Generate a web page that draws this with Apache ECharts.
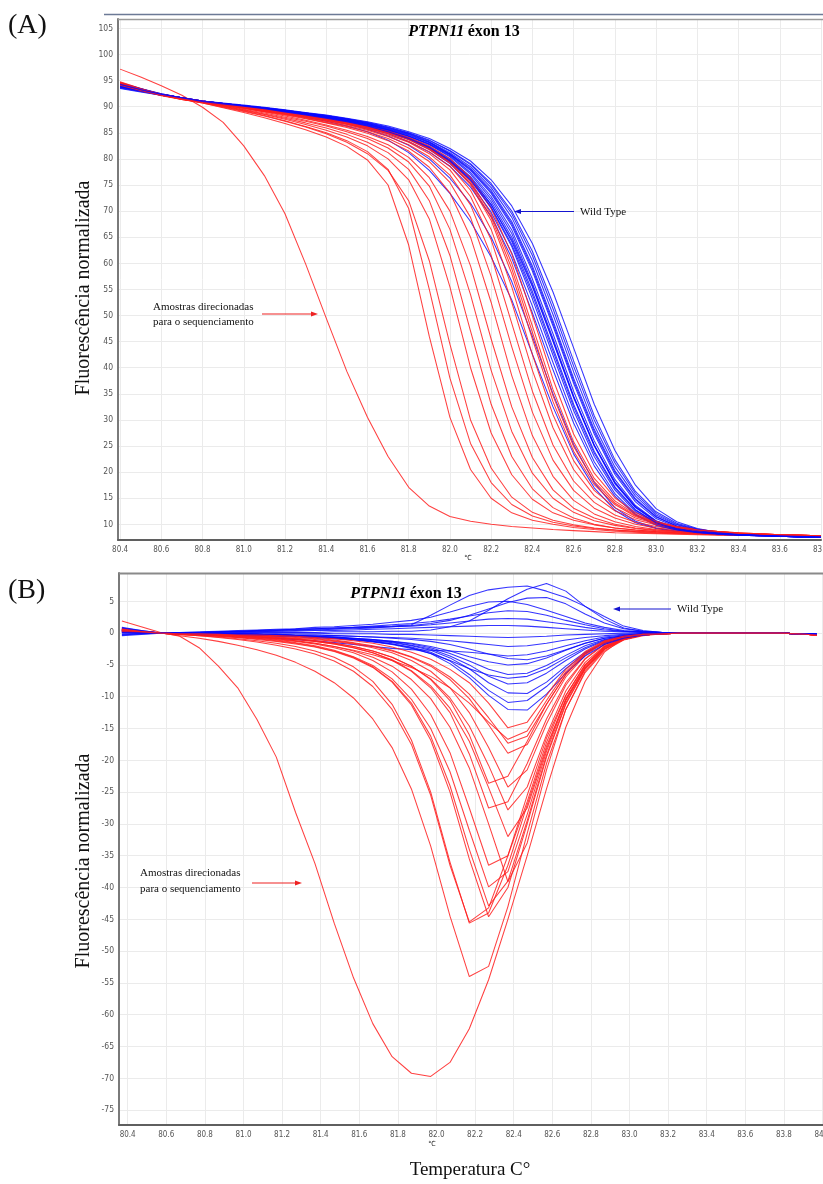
<!DOCTYPE html>
<html><head><meta charset="utf-8">
<script src="https://cdn.jsdelivr.net/npm/echarts@6/dist/echarts.min.js"></script>
<style>html,body{margin:0;padding:0;background:#fff}#c{width:823px;height:1184px}</style>
</head><body><div id="c"></div>
<script>
// ---------- temperatures (°C) ----------
const tempsA = [80.4,80.5,80.6,80.7,80.8,80.9,81.0,81.1,81.2,81.3,81.4,81.5,81.6,81.7,81.8,81.9,82.0,82.1,82.2,82.3,82.4,82.5,82.6,82.7,82.8,82.9,83.0,83.1,83.2,83.3,83.4,83.5,83.6,83.7,83.8];
const tempsB = [80.37,80.47,80.57,80.67,80.77,80.87,80.97,81.07,81.17,81.27,81.37,81.47,81.57,81.67,81.77,81.87,81.97,82.07,82.17,82.27,82.37,82.47,82.57,82.67,82.77,82.87,82.97,83.07,83.17,83.27,83.37,83.47,83.57,83.67,83.77,83.87,83.97];

// ---------- tick labels ----------
const xTicksA = [80.4,80.6,80.8,81.0,81.2,81.4,81.6,81.8,82.0,82.2,82.4,82.6,82.8,83.0,83.2,83.4,83.6,83.8];
const xTicksB = [80.4,80.6,80.8,81.0,81.2,81.4,81.6,81.8,82.0,82.2,82.4,82.6,82.8,83.0,83.2,83.4,83.6,83.8,84.0];
const yTicksA = [10,15,20,25,30,35,40,45,50,55,60,65,70,75,80,85,90,95,100,105];
const yTicksB = [-75,-70,-65,-60,-55,-50,-45,-40,-35,-30,-25,-20,-15,-10,-5,0,5];

// ---------- (A) normalized melting curves: wild type ----------
const wildTypeA = [
 [93.6,92.9,92.2,91.6,91.0,90.4,89.9,89.3,88.7,88.0,87.2,86.3,85.2,83.6,81.2,77.8,73.4,68.0,61.2,53.0,42.6,32.5,23.5,17.0,12.7,10.3,9.2,8.6,8.3,8.0,7.9,7.8,7.7,7.6,7.5],
 [93.8,93.0,92.3,91.6,91.0,90.5,90.0,89.4,88.8,88.2,87.5,86.7,85.7,84.4,82.6,80.0,76.3,71.5,65.0,56.5,46.0,35.0,25.3,18.0,13.2,10.6,9.3,8.7,8.3,8.1,7.9,7.8,7.7,7.6,7.5],
 [94.1,93.2,92.4,91.7,91.1,90.6,90.1,89.6,89.0,88.4,87.7,87.0,86.1,85.0,83.7,81.8,79.1,75.3,69.8,62.0,51.8,41.0,30.5,22.0,15.9,12.0,9.9,8.9,8.4,8.1,7.9,7.8,7.7,7.6,7.5],
 [93.9,93.1,92.3,91.6,91.0,90.5,90.1,89.6,89.1,88.5,87.9,87.2,86.3,85.3,84.0,82.3,79.8,76.4,71.3,64.2,54.6,43.8,33.0,24.0,17.2,12.8,10.3,9.1,8.5,8.2,8.0,7.8,7.7,7.6,7.5],
 [94.3,93.3,92.4,91.7,91.0,90.6,90.2,89.7,89.2,88.7,88.1,87.3,86.5,85.5,84.3,82.7,80.4,77.1,72.3,65.7,56.2,45.6,34.6,25.2,18.0,13.3,10.6,9.2,8.6,8.2,8.0,7.9,7.8,7.6,7.5],
 [94.0,93.1,92.3,91.6,91.0,90.5,90.1,89.6,89.1,88.6,88.0,87.4,86.6,85.6,84.4,82.8,80.6,77.4,72.8,66.4,57.0,46.5,35.5,26.0,18.6,13.6,10.7,9.3,8.6,8.2,8.0,7.9,7.8,7.7,7.6],
 [93.7,93.0,92.3,91.6,91.0,90.6,90.2,89.7,89.2,88.7,88.2,87.6,86.8,85.8,84.7,83.2,81.0,78.2,74.0,68.0,59.5,49.0,38.0,28.2,20.3,14.9,11.5,9.7,8.8,8.3,8.0,7.9,7.8,7.6,7.5],
 [94.4,93.4,92.5,91.7,91.1,90.6,90.2,89.8,89.3,88.8,88.3,87.7,86.9,86.0,84.9,83.5,81.5,78.9,75.0,69.5,61.5,51.3,40.3,30.0,21.8,15.9,12.1,10.0,9.0,8.4,8.1,7.9,7.8,7.7,7.6],
 [94.2,93.3,92.4,91.7,91.1,90.7,90.3,89.9,89.4,88.9,88.4,87.8,87.1,86.3,85.2,83.9,82.0,79.6,76.0,71.0,63.8,54.5,43.8,33.0,24.2,17.5,13.0,10.5,9.2,8.5,8.1,7.9,7.7,7.6,7.5],
 [93.5,92.8,92.2,91.6,91.0,90.5,90.0,89.5,89.0,88.4,87.8,87.1,86.2,85.2,83.9,82.1,79.7,76.2,71.2,64.5,55.5,45.0,34.3,25.0,17.8,13.2,10.5,9.2,8.6,8.2,8.0,7.9,7.8,7.7,7.6],
 [94.5,93.5,92.5,91.7,91.0,90.5,90.1,89.6,89.1,88.6,88.0,87.4,86.6,85.6,84.4,82.9,80.8,77.8,73.4,67.2,58.5,48.0,37.0,27.3,19.6,14.3,11.1,9.5,8.7,8.3,8.0,7.9,7.8,7.7,7.6],
 [93.9,93.1,92.3,91.6,91.0,90.5,90.0,89.5,88.9,88.3,87.6,86.8,85.9,84.8,83.3,81.3,78.6,74.6,69.0,61.0,50.5,39.6,29.4,21.2,15.4,11.8,9.8,8.9,8.4,8.1,7.9,7.8,7.7,7.6,7.5],
 [94.0,93.2,92.4,91.7,91.1,90.6,90.2,89.8,89.3,88.8,88.2,87.6,86.8,85.9,84.8,83.3,81.2,78.5,74.5,68.8,60.5,50.2,39.2,29.0,21.0,15.4,11.8,9.9,8.9,8.4,8.1,7.9,7.8,7.7,7.6],
 [94.2,93.3,92.4,91.7,91.1,90.6,90.1,89.6,89.0,88.5,87.8,87.1,86.2,85.1,83.8,82.0,79.4,75.9,70.6,63.2,53.2,42.4,31.8,23.0,16.6,12.4,10.1,9.0,8.5,8.2,8.0,7.8,7.7,7.6,7.5],
 [93.8,93.0,92.3,91.6,91.0,90.5,90.1,89.6,89.1,88.6,88.0,87.3,86.4,85.4,84.1,82.4,80.0,76.6,71.8,65.0,55.8,45.2,34.4,25.2,18.1,13.4,10.6,9.2,8.6,8.2,8.0,7.9,7.8,7.7,7.6],
 [94.1,93.2,92.4,91.7,91.1,90.6,90.2,89.7,89.2,88.7,88.1,87.5,86.7,85.7,84.6,83.1,80.9,78.0,73.7,67.6,59.0,48.5,37.5,27.8,20.0,14.7,11.4,9.7,8.8,8.3,8.0,7.9,7.8,7.7,7.6],
 [93.9,93.1,92.4,91.7,91.1,90.6,90.2,89.8,89.3,88.8,88.3,87.7,87.0,86.1,85.0,83.6,81.6,79.1,75.3,70.0,62.3,52.3,41.3,30.8,22.4,16.3,12.4,10.2,9.1,8.5,8.1,7.9,7.8,7.7,7.6],
 [94.3,93.3,92.4,91.7,91.0,90.5,90.1,89.6,89.0,88.4,87.8,87.1,86.3,85.2,83.9,82.2,79.6,76.0,70.8,63.6,54.0,43.2,32.5,23.6,17.0,12.7,10.3,9.1,8.5,8.2,8.0,7.8,7.7,7.6,7.5]
];

// ---------- (A) normalized melting curves: samples sent to sequencing ----------
const sequencedA = [
 [97.2,95.7,94.0,92.2,89.9,87.0,82.5,76.8,69.5,59.9,49.5,39.3,30.5,23.0,17.1,13.5,11.5,10.6,10.0,9.6,9.3,9.0,8.8,8.6,8.4,8.3,8.2,8.1,8.0,7.9,7.9,7.8,7.8,7.8,7.7],
 [94.6,93.4,92.3,91.5,90.7,89.8,88.9,87.9,86.8,85.6,84.2,82.4,79.8,75.0,63.5,46.0,30.5,20.5,15.0,12.2,10.8,10.0,9.4,9.0,8.7,8.5,8.3,8.2,8.1,8.0,7.9,7.9,7.8,7.8,7.7],
 [94.2,93.1,92.1,91.4,90.8,90.0,89.2,88.3,87.3,86.2,85.0,83.5,81.4,78.0,70.5,55.0,38.0,25.5,18.0,13.8,11.6,10.4,9.7,9.2,8.9,8.6,8.4,8.3,8.2,8.1,8.0,7.9,7.8,7.8,7.7],
 [94.8,93.5,92.3,91.4,90.7,89.9,89.1,88.2,87.2,86.1,84.8,83.2,81.0,77.8,72.0,60.5,44.5,30.0,20.8,15.2,12.3,10.8,9.9,9.3,8.9,8.7,8.5,8.3,8.2,8.1,8.0,7.9,7.9,7.8,7.8],
 [94.4,93.3,92.2,91.4,90.8,90.1,89.3,88.5,87.6,86.6,85.5,84.2,82.5,80.0,76.0,68.5,55.5,40.0,27.5,19.5,14.8,12.2,10.8,9.9,9.3,8.9,8.6,8.4,8.3,8.2,8.1,8.0,7.9,7.8,7.8],
 [94.6,93.4,92.3,91.5,90.8,90.1,89.4,88.6,87.8,86.9,85.9,84.7,83.2,81.2,78.0,72.0,61.5,47.0,33.0,23.0,16.8,13.2,11.2,10.0,9.3,8.9,8.6,8.4,8.2,8.1,8.0,7.9,7.9,7.8,7.8],
 [94.3,93.2,92.2,91.5,90.9,90.2,89.5,88.8,88.0,87.2,86.3,85.2,83.9,82.1,79.4,74.8,66.5,54.0,39.5,27.8,19.8,15.0,12.3,10.7,9.8,9.2,8.8,8.5,8.3,8.2,8.1,8.0,7.9,7.8,7.8],
 [94.5,93.3,92.3,91.5,90.9,90.3,89.7,89.0,88.2,87.4,86.5,85.5,84.3,82.7,80.3,76.4,70.0,59.5,45.5,32.5,22.8,16.6,13.1,11.2,10.0,9.3,8.9,8.6,8.4,8.2,8.1,8.0,7.9,7.9,7.8],
 [94.1,93.1,92.2,91.5,90.9,90.3,89.7,89.1,88.4,87.7,86.9,86.0,84.9,83.5,81.5,78.4,73.5,65.0,52.5,38.5,27.0,19.2,14.6,12.0,10.5,9.6,9.0,8.7,8.4,8.2,8.1,8.0,7.9,7.9,7.8],
 [94.7,93.5,92.4,91.6,90.9,90.3,89.7,89.1,88.5,87.8,87.0,86.2,85.2,83.9,82.1,79.5,75.5,68.8,57.5,44.0,31.5,22.3,16.5,13.1,11.2,10.0,9.3,8.9,8.6,8.4,8.2,8.1,8.0,7.9,7.8],
 [94.0,93.0,92.2,91.5,90.9,90.4,89.8,89.2,88.6,87.9,87.2,86.4,85.5,84.3,82.7,80.4,76.9,71.2,61.5,48.5,35.5,25.2,18.3,14.2,11.8,10.4,9.6,9.0,8.7,8.4,8.2,8.1,8.0,7.9,7.8],
 [94.4,93.3,92.3,91.6,91.0,90.4,89.8,89.2,88.6,88.0,87.3,86.6,85.7,84.6,83.2,81.0,77.9,72.8,64.5,52.5,39.5,28.5,20.5,15.5,12.6,10.9,9.9,9.2,8.8,8.5,8.3,8.1,8.0,7.9,7.8],
 [94.2,93.2,92.3,91.6,91.0,90.4,89.9,89.3,88.7,88.1,87.4,86.7,85.8,84.8,83.4,81.4,78.6,74.0,66.5,55.5,42.5,31.0,22.2,16.5,13.2,11.2,10.1,9.3,8.9,8.6,8.3,8.2,8.0,7.9,7.8],
 [94.6,93.4,92.4,91.6,91.0,90.5,89.9,89.4,88.8,88.2,87.5,86.8,86.0,85.0,83.7,81.8,79.2,75.0,68.2,58.0,45.5,33.5,24.0,17.6,13.8,11.5,10.2,9.4,8.9,8.6,8.3,8.2,8.0,7.9,7.8],
 [94.3,93.3,92.3,91.6,91.0,90.5,90.0,89.4,88.8,88.2,87.6,86.9,86.1,85.1,83.9,82.1,79.6,75.7,69.4,60.0,48.0,35.8,25.8,18.8,14.5,11.9,10.4,9.5,9.0,8.6,8.4,8.2,8.0,7.9,7.8],
 [94.5,93.4,92.4,91.7,91.1,90.5,90.0,89.5,88.9,88.3,87.7,87.0,86.2,85.3,84.1,82.5,80.1,76.4,70.5,61.8,50.0,37.8,27.3,19.8,15.1,12.2,10.6,9.6,9.0,8.6,8.4,8.2,8.0,7.9,7.8],
 [94.1,93.1,92.2,91.5,90.9,90.4,89.9,89.4,88.8,88.2,87.5,86.8,86.0,85.0,83.8,82.0,79.4,75.3,68.8,59.0,46.8,34.6,24.9,18.2,14.1,11.7,10.3,9.5,8.9,8.6,8.3,8.2,8.0,7.9,7.8]
];

// ---------- (B) difference curves: wild type ----------
const wildTypeB = [
 [0.7,0.3,0,0.1,0.1,0.2,0.3,0.4,0.5,0.6,0.7,0.8,0.9,1.0,1.1,1.3,2.8,4.4,5.9,6.8,7.2,7.4,6.6,5.6,4.2,2.6,1.1,0.4,0.1,0.1,0.1,0,0,0,0,-0.1,-0.2],
 [0.3,0.1,0,0,0,0,0.1,0.1,0.1,0.1,0.1,0.2,0.2,0.2,0.3,0.3,0.5,1.0,1.9,3.6,5.4,6.9,7.8,6.6,4.2,2.2,0.8,0.3,0.1,0.1,0,0,0,0,0,-0.1,-0.2],
 [0.5,0.2,0,0.1,0.1,0.2,0.2,0.3,0.4,0.5,0.6,0.7,0.8,0.9,1.0,1.2,1.5,2.0,2.8,3.8,4.8,5.5,5.6,4.6,3.0,1.6,0.7,0.3,0.1,0.1,0,0,0,0,0,-0.1,-0.2],
 [0.9,0.4,0,0.1,0.2,0.3,0.4,0.5,0.6,0.7,0.9,1.0,1.2,1.4,1.7,2.0,2.5,3.3,4.2,4.9,5.0,4.5,3.6,2.6,1.6,0.9,0.4,0.2,0.1,0.1,0,0,0,0,0,-0.1,-0.2],
 [0.4,0.2,0,0.1,0.1,0.2,0.3,0.4,0.5,0.6,0.7,0.8,0.9,1.1,1.3,1.5,1.8,2.2,2.7,3.2,3.5,3.4,2.8,2.0,1.3,0.7,0.3,0.2,0.1,0,0,0,0,0,0,-0.1,-0.2],
 [0.2,0.1,0,0,0.1,0.1,0.2,0.3,0.3,0.4,0.5,0.6,0.7,0.8,1.0,1.1,1.3,1.6,1.9,2.2,2.3,2.2,1.8,1.4,0.9,0.5,0.3,0.1,0.1,0,0,0,0,0,0,-0.1,-0.2],
 [0.6,0.3,0,0,0.1,0.1,0.2,0.2,0.3,0.3,0.4,0.4,0.5,0.6,0.7,0.8,0.9,1.0,1.1,1.2,1.2,1.1,0.9,0.7,0.5,0.3,0.2,0.1,0,0,0,0,0,0,0,-0.1,-0.2],
 [-0.2,-0.1,0,0,0,0,0,0,0,0,0,-0.1,-0.1,-0.1,-0.2,-0.2,-0.3,-0.4,-0.5,-0.6,-0.7,-0.6,-0.5,-0.3,-0.2,-0.1,0,0,0,0,0,0,0,0,0,-0.1,-0.2],
 [0.1,0,0,0,-0.1,-0.1,-0.1,-0.2,-0.2,-0.3,-0.3,-0.4,-0.5,-0.6,-0.7,-0.8,-1.0,-1.2,-1.5,-1.8,-2.1,-2.0,-1.6,-1.1,-0.7,-0.4,-0.2,-0.1,0,0,0,0,0,0,0,-0.1,-0.2],
 [-0.3,-0.1,0,-0.1,-0.2,-0.3,-0.4,-0.6,-0.8,-1.0,-1.2,-1.5,-1.8,-2.1,-2.4,-2.6,-2.7,-2.8,-3.0,-3.3,-3.6,-3.4,-2.8,-2.0,-1.2,-0.6,-0.3,-0.1,0,0,0,0,0,0,0,-0.1,-0.2],
 [0.3,0.1,0,0,-0.1,-0.1,-0.2,-0.2,-0.3,-0.4,-0.5,-0.6,-0.8,-1.0,-1.3,-1.6,-2.1,-2.8,-3.7,-4.5,-5.0,-4.8,-3.9,-2.7,-1.6,-0.8,-0.4,-0.1,0,0,0,0,0,0,0,-0.1,-0.2],
 [0.5,0.2,0,0,0,-0.1,-0.1,-0.2,-0.3,-0.4,-0.5,-0.6,-0.8,-1.0,-1.3,-1.7,-2.3,-3.2,-4.4,-5.7,-6.5,-6.3,-5.1,-3.5,-2.0,-1.0,-0.4,-0.2,0,0,0,0,0,0,0,-0.1,-0.2],
 [-0.4,-0.2,0,0,-0.1,-0.1,-0.2,-0.2,-0.3,-0.4,-0.5,-0.7,-0.9,-1.1,-1.4,-1.9,-2.5,-3.6,-5.0,-6.8,-8.0,-7.8,-6.3,-4.3,-2.5,-1.2,-0.5,-0.2,0,0,0,0,0,0,0,-0.1,-0.2],
 [0.2,0.1,0,0,0,-0.1,-0.1,-0.2,-0.3,-0.4,-0.5,-0.7,-0.9,-1.2,-1.5,-2.0,-2.7,-3.9,-5.6,-7.8,-9.4,-9.5,-7.7,-5.2,-3.0,-1.5,-0.6,-0.2,0,0,0,0,0,0,0,-0.1,-0.2],
 [0.4,0.2,0,0,-0.1,-0.1,-0.2,-0.3,-0.4,-0.5,-0.6,-0.8,-1.0,-1.3,-1.7,-2.2,-3.0,-4.4,-6.5,-9.0,-10.9,-10.6,-8.4,-5.6,-3.2,-1.6,-0.7,-0.3,-0.1,0,0,0,0,0,0,-0.1,-0.2],
 [0.8,0.4,0,0,0,-0.1,-0.1,-0.2,-0.3,-0.4,-0.6,-0.8,-1.0,-1.3,-1.7,-2.3,-3.2,-4.8,-7.0,-9.8,-12.0,-12.1,-9.6,-6.3,-3.6,-1.8,-0.8,-0.3,-0.1,0,0,0,0,0,0,-0.1,-0.2],
 [0,0,0,0,-0.1,-0.1,-0.1,-0.2,-0.2,-0.3,-0.3,-0.4,-0.5,-0.6,-0.8,-1.0,-1.3,-1.8,-2.5,-3.3,-4.0,-4.2,-3.6,-2.6,-1.6,-0.8,-0.4,-0.1,0,0,0,0,0,0,0,-0.1,-0.2],
 [0.1,0,0,0,-0.1,-0.1,-0.2,-0.3,-0.4,-0.5,-0.7,-0.9,-1.1,-1.4,-1.8,-2.4,-3.2,-4.3,-5.6,-6.6,-7.1,-6.8,-5.6,-3.9,-2.3,-1.1,-0.5,-0.2,0,0,0,0,0,0,0,-0.1,-0.2]
];

// ---------- (B) difference curves: samples sent to sequencing ----------
const sequencedB = [
 [1.9,1.0,0.1,-0.5,-2.3,-5.2,-8.6,-13.6,-19.5,-28.2,-36.2,-45.6,-54.2,-61.4,-66.6,-69.2,-69.7,-67.5,-62.2,-54.5,-45.0,-35.0,-24.5,-14.8,-7.6,-3.0,-0.8,-0.2,0,0.1,0.1,0.1,0.1,0,0,-0.1,-0.3],
 [0.5,0.2,0,-0.4,-0.8,-1.3,-1.9,-2.6,-3.5,-4.6,-6.0,-7.8,-10.2,-13.5,-18.0,-24.5,-33.5,-44.5,-54.0,-52.4,-43.0,-31.5,-20.5,-12.0,-6.2,-2.8,-1.1,-0.4,-0.1,0,0,0,0,0,0,-0.1,-0.3],
 [0.8,0.3,0,-0.2,-0.4,-0.6,-0.9,-1.2,-1.6,-2.1,-2.8,-3.8,-5.3,-7.6,-11.2,-16.8,-25.0,-36.0,-45.6,-44.0,-36.5,-27.0,-17.8,-10.5,-5.5,-2.5,-1.0,-0.3,-0.1,0,0,0,0,0,0,-0.1,-0.3],
 [0.4,0.2,0,-0.2,-0.4,-0.7,-1.0,-1.4,-1.9,-2.5,-3.3,-4.4,-6.0,-8.4,-12.0,-17.5,-25.5,-36.5,-45.4,-43.2,-35.0,-25.5,-16.5,-9.8,-5.0,-2.2,-0.9,-0.3,-0.1,0,0,0,0,0,0,-0.1,-0.3],
 [0.6,0.3,0,-0.2,-0.3,-0.5,-0.7,-1.0,-1.3,-1.7,-2.2,-2.9,-3.9,-5.4,-7.7,-11.3,-16.8,-25.0,-35.5,-44.6,-40.0,-30.0,-19.5,-11.2,-5.7,-2.5,-1.0,-0.3,-0.1,0,0,0,0,0,0,-0.1,-0.3],
 [0.3,0.1,0,-0.2,-0.3,-0.5,-0.7,-0.9,-1.2,-1.6,-2.1,-2.8,-3.8,-5.3,-7.6,-11.0,-16.2,-24.0,-34.0,-42.9,-39.0,-29.5,-19.2,-11.0,-5.6,-2.4,-0.9,-0.3,-0.1,0,0,0,0,0,0,-0.1,-0.3],
 [0.7,0.3,0,-0.1,-0.3,-0.4,-0.6,-0.8,-1.1,-1.5,-2.0,-2.7,-3.7,-5.1,-7.2,-10.4,-15.0,-21.8,-31.0,-39.9,-37.5,-28.5,-18.6,-10.6,-5.4,-2.3,-0.9,-0.3,-0.1,0,0,0,0,0,0,-0.1,-0.3],
 [0.5,0.2,0,-0.1,-0.2,-0.4,-0.6,-0.8,-1.0,-1.3,-1.7,-2.3,-3.1,-4.3,-6.1,-8.8,-12.8,-18.8,-27.5,-36.5,-35.0,-26.5,-17.2,-9.8,-5.0,-2.1,-0.8,-0.3,-0.1,0,0,0,0,0,0,-0.1,-0.3],
 [0.2,0.1,0,-0.1,-0.2,-0.3,-0.4,-0.6,-0.8,-1.0,-1.3,-1.7,-2.3,-3.1,-4.3,-6.0,-8.6,-12.5,-19.0,-27.5,-26.5,-20.5,-13.5,-7.8,-4.0,-1.7,-0.7,-0.2,-0.1,0,0,0,0,0,0,-0.1,-0.3],
 [0.6,0.3,0,-0.1,-0.2,-0.3,-0.4,-0.5,-0.7,-0.9,-1.2,-1.6,-2.1,-2.8,-3.8,-5.2,-7.3,-10.6,-16.0,-23.6,-22.5,-17.0,-11.2,-6.5,-3.3,-1.4,-0.6,-0.2,-0.1,0,0,0,0,0,0,-0.1,-0.3],
 [0.4,0.2,0,-0.1,-0.2,-0.3,-0.5,-0.7,-0.9,-1.2,-1.6,-2.1,-2.8,-3.8,-5.2,-7.3,-10.3,-14.8,-21.2,-30.0,-39.1,-33.0,-21.5,-12.0,-6.0,-2.6,-1.0,-0.3,-0.1,0,0,0,0,0,0,-0.1,-0.3],
 [0.7,0.3,0,-0.1,-0.2,-0.3,-0.4,-0.6,-0.8,-1.0,-1.3,-1.7,-2.3,-3.1,-4.2,-5.9,-8.3,-11.8,-17.0,-24.3,-32.0,-27.5,-18.2,-10.3,-5.2,-2.2,-0.9,-0.3,-0.1,0,0,0,0,0,0,-0.1,-0.3],
 [0.3,0.1,0,-0.1,-0.2,-0.3,-0.4,-0.5,-0.7,-0.9,-1.2,-1.6,-2.1,-2.8,-3.8,-5.2,-7.2,-10.2,-14.6,-20.8,-27.8,-24.2,-16.0,-9.1,-4.6,-2.0,-0.8,-0.3,-0.1,0,0,0,0,0,0,-0.1,-0.3],
 [0.5,0.2,0,-0.1,-0.1,-0.2,-0.3,-0.4,-0.6,-0.8,-1.0,-1.3,-1.7,-2.3,-3.1,-4.3,-6.0,-8.6,-12.5,-18.0,-24.2,-21.5,-14.3,-8.2,-4.1,-1.8,-0.7,-0.2,-0.1,0,0,0,0,0,0,-0.1,-0.3],
 [0.6,0.3,0,-0.1,-0.1,-0.2,-0.3,-0.4,-0.5,-0.7,-0.9,-1.2,-1.6,-2.1,-2.8,-3.8,-5.2,-7.3,-10.3,-14.4,-18.9,-17.5,-12.0,-6.9,-3.5,-1.5,-0.6,-0.2,-0.1,0,0,0,0,0,0,-0.1,-0.3],
 [0.2,0.1,0,-0.1,-0.1,-0.2,-0.3,-0.4,-0.5,-0.6,-0.8,-1.1,-1.5,-2.0,-2.7,-3.7,-5.0,-6.9,-9.6,-13.3,-17.3,-16.2,-11.2,-6.5,-3.3,-1.4,-0.6,-0.2,-0.1,0,0,0,0,0,0,-0.1,-0.3],
 [0.4,0.2,0,-0.1,-0.2,-0.3,-0.5,-0.7,-0.9,-1.2,-1.6,-2.1,-2.7,-3.4,-4.3,-5.4,-6.8,-8.6,-11.0,-14.0,-16.7,-15.4,-10.6,-6.1,-3.1,-1.3,-0.5,-0.2,-0.1,0,0,0,0,0,0,-0.1,-0.3],
 [0.5,0.2,0,-0.1,-0.1,-0.2,-0.3,-0.3,-0.4,-0.5,-0.7,-0.9,-1.2,-1.6,-2.2,-3.0,-4.1,-5.7,-7.8,-11.0,-14.9,-14.0,-9.8,-5.7,-2.9,-1.2,-0.5,-0.2,-0.1,0,0,0,0,0,0,-0.1,-0.3]
];

// ---------- texts ----------
const panelTitleGene = 'PTPN11';
const panelTitleRest = 'éxon 13';
const yTitle = 'Fluorescência normalizada';
const xTitle = 'Temperatura C°';
const wtLabel = 'Wild Type';
const seqLabel1 = 'Amostras direcionadas';
const seqLabel2 = 'para o sequenciamento';

// ---------- build ----------
const SERIF = '"Liberation Serif","Times New Roman",serif';
const NARROW = '"Liberation Sans Narrow","Arial Narrow","DejaVu Sans Condensed",sans-serif';
const BLUE = '#0808ff';
const RED = '#ff1e1e';

function curve(temps, vals, color, gi, op) {
  return {
    type: 'line', xAxisIndex: gi, yAxisIndex: gi,
    data: vals.map((v, i) => [temps[i], v]),
    symbol: 'none', showSymbol: false, silent: true, animation: false,
    lineStyle: { color: color, width: 1.05, opacity: op },
    z: 2
  };
}
const series = [];
function addPanel(temps, blues, reds, gi) {
  const n = Math.max(blues.length, reds.length);
  for (let i = 0; i < n; i++) {
    if (i < blues.length) series.push(curve(temps, blues[i], BLUE, gi, 0.82));
    if (i < reds.length) series.push(curve(temps, reds[i], RED, gi, 0.85));
  }
}
addPanel(tempsA, wildTypeA, sequencedA, 0);
addPanel(tempsB, wildTypeB, sequencedB, 1);

function xAxis(gi, min, max, ticks) {
  return {
    type: 'value', gridIndex: gi, min: min, max: max,
    axisLine: { show: true, onZero: false, lineStyle: { color: '#5f5f5f', width: 2 } },
    axisTick: { show: false, customValues: ticks },
    axisLabel: { customValues: ticks, formatter: v => v.toFixed(1), fontSize: 8, color: '#555', margin: 6, fontFamily: NARROW, hideOverlap: false },
    splitLine: { show: true, lineStyle: { color: '#ebebeb', width: 1 } }
  };
}
function yAxis(gi, min, max, ticks) {
  return {
    type: 'value', gridIndex: gi, min: min, max: max,
    axisLine: { show: true, onZero: false, lineStyle: { color: '#7a7a7a', width: 2 } },
    axisTick: { show: false, customValues: ticks },
    axisLabel: { customValues: ticks, fontSize: 8.5, color: '#555', margin: 5, fontFamily: NARROW },
    splitLine: { show: true, lineStyle: { color: '#ebebeb', width: 1 } }
  };
}

function txt(x, y, text, font, align, extra) {
  return Object.assign({ type: 'text', x: x, y: y, silent: true, z: 10,
    style: { text: text, font: font, fill: '#111', align: align || 'left', verticalAlign: 'middle' } }, extra || {});
}
function title(x, y) {
  return { type: 'text', x: x, y: y, silent: true, z: 10,
    style: { text: '{i|' + panelTitleGene + '} {b|' + panelTitleRest + '}', align: 'center', verticalAlign: 'middle', fill: '#000',
      rich: { i: { fontStyle: 'italic', fontWeight: 'bold', fontSize: 16, fontFamily: SERIF, fill: '#000' },
              b: { fontWeight: 'bold', fontSize: 16, fontFamily: SERIF, fill: '#000' } } } };
}
function arrow(x1, x2, y, color) {
  const dir = x2 > x1 ? 1 : -1;
  return [
    { type: 'line', silent: true, z: 10, shape: { x1: x1, y1: y, x2: x2 - dir * 5, y2: y }, style: { stroke: color, lineWidth: 1.2 } },
    { type: 'polygon', silent: true, z: 10, shape: { points: [[x2, y], [x2 - dir * 7, y - 2.6], [x2 - dir * 7, y + 2.6]] }, style: { fill: color } }
  ];
}

const graphics = [
  { type: 'line', silent: true, z: 10, shape: { x1: 104, y1: 14.5, x2: 823, y2: 14.5 }, style: { stroke: '#6c7a96', lineWidth: 1.5 } },
  { type: 'line', silent: true, z: 10, shape: { x1: 118, y1: 19.5, x2: 823, y2: 19.5 }, style: { stroke: '#9a9a9a', lineWidth: 1.5 } },
  { type: 'line', silent: true, z: 10, shape: { x1: 119, y1: 573.5, x2: 823, y2: 573.5 }, style: { stroke: '#8a8a8a', lineWidth: 2 } },
  txt(8, 26, '(A)', '28px ' + SERIF),
  txt(8, 591, '(B)', '28px ' + SERIF),
  title(464, 32),
  title(406, 594),
  txt(84, 288, yTitle, '20px ' + SERIF, 'center', { rotation: Math.PI / 2 }),
  txt(84, 861, yTitle, '20px ' + SERIF, 'center', { rotation: Math.PI / 2 }),
  txt(470, 1170, xTitle, '19px ' + SERIF, 'center'),
  txt(468, 558, '°C', '7px ' + NARROW, 'center'),
  txt(432, 1144, '°C', '7px ' + NARROW, 'center'),
  txt(580, 212, wtLabel, '11px ' + SERIF),
  txt(677, 609, wtLabel, '11px ' + SERIF),
  txt(153, 307, seqLabel1, '11px ' + SERIF),
  txt(153, 322, seqLabel2, '11px ' + SERIF),
  txt(140, 873, seqLabel1, '11px ' + SERIF),
  txt(140, 889, seqLabel2, '11px ' + SERIF)
].concat(arrow(574, 514, 211.5, '#1515d0'))
 .concat(arrow(671, 613, 609, '#1515d0'))
 .concat(arrow(262, 318, 314, '#ee2222'))
 .concat(arrow(252, 302, 883, '#ee2222'));

const chart = echarts.init(document.getElementById('c'), null, { renderer: 'canvas', width: 823, height: 1184 });
chart.setOption({
  animation: false,
  backgroundColor: '#fff',
  grid: [
    { left: 118, top: 19, width: 703, height: 521, containLabel: false, outerBoundsMode: 'none' },
    { left: 119, top: 573, width: 703.5, height: 552, containLabel: false, outerBoundsMode: 'none' }
  ],
  xAxis: [ xAxis(0, 80.39, 83.8, xTicksA), xAxis(1, 80.355, 84.0, xTicksB) ],
  yAxis: [ yAxis(0, 7, 106.8, yTicksA), yAxis(1, -77.34, 9.45, yTicksB) ],
  series: series,
  graphic: graphics
});
</script></body></html>
